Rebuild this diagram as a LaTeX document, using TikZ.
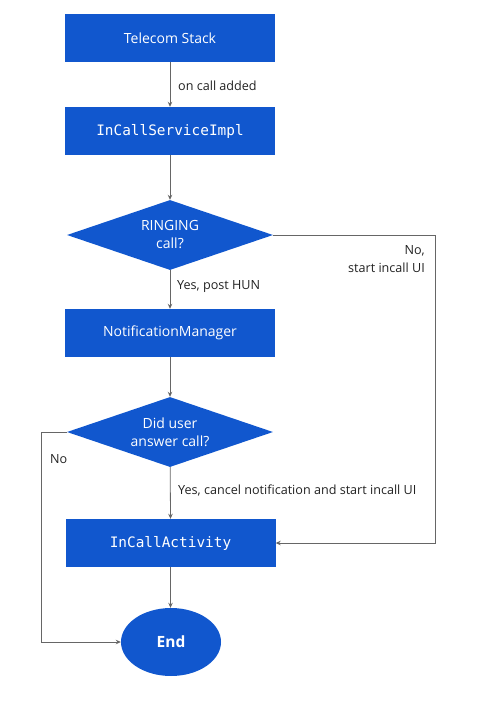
\documentclass[tikz,border=0pt]{standalone}
\usepackage{fontspec}
\setmainfont{Open Sans}
\setmonofont{DejaVu Sans Mono}
\usetikzlibrary{shapes.geometric,arrows.meta}
\definecolor{boxblue}{HTML}{1157CE}
\definecolor{wire}{HTML}{666666}
\definecolor{ink}{HTML}{222222}
\tikzset{
  stepbox/.style={rectangle, fill=boxblue, text=white, minimum width=210pt, minimum height=48pt, inner sep=0pt, font=\fontsize{14}{16}\selectfont},
  monobox/.style={stepbox, font=\ttfamily\fontsize{14.4}{16}\selectfont},
  ask/.style={diamond, fill=boxblue, text=white, minimum width=206pt, minimum height=70pt, shape aspect=2.9, inner sep=0pt, align=center, font=\fontsize{14}{18}\selectfont},
  finish/.style={ellipse, fill=boxblue, text=white, minimum width=100pt, minimum height=68pt, font=\bfseries\fontsize{15.5}{17}\selectfont},
  flow/.style={draw=wire, line width=0.8pt, -{Stealth[length=5pt,width=4.5pt]}},
  lab/.style={text=ink, font=\fontsize{12.6}{18}\selectfont, inner sep=0pt},
}

\begin{document}
\begin{tikzpicture}[x=1pt,y=-1pt]
  \useasboundingbox (0,0) rectangle (487,718);

  \node[stepbox] (stack)  at (170,38)  {Telecom Stack};
  \node[monobox] (impl)   at (170,131) {InCallServiceImpl};
  \node[ask]     (ring)   at (170,235) {RINGING\\call?};
  \node[stepbox] (notify) at (170,333) {NotificationManager};
  \node[ask]     (answer) at (170,432) {Did user\\answer call?};
  \node[monobox] (act)    at (170.5,543) {InCallActivity};
  \node[finish]  (done)   at (171,642) {End};

  \coordinate (ringR) at (435,235);
  \coordinate (actR)  at (435,543);
  \coordinate (askL)  at (41,432);
  \coordinate (doneL) at (41,642);

  % main path
  \draw[flow] (stack) -- (impl.north);
  \draw[flow] (impl) -- (ring.north);
  \draw[flow] (ring) -- (notify.north);
  \draw[flow] (notify) -- (answer.north);
  \draw[flow] (answer) -- (act.north);
  \draw[flow] (act.south) -- (act.south |- done.north);

  % side branches
  \draw[flow] (ring.east) -- (ringR) -- (actR) -- (act.east);
  \draw[flow] (answer.west) -- (askL) -- (doneL) -- (done.west);

  \node[lab,anchor=west] at (178,86) {on call added};
  \node[lab,anchor=west] at (177,287) {Yes, post HUN};
  \node[lab,anchor=east,align=right] at (425,259) {No,\\start incall UI};
  \node[lab,anchor=west] at (50,459) {No};
  \node[lab,anchor=west] at (178,490) {Yes, cancel notification and start incall UI};
\end{tikzpicture}
\end{document}
